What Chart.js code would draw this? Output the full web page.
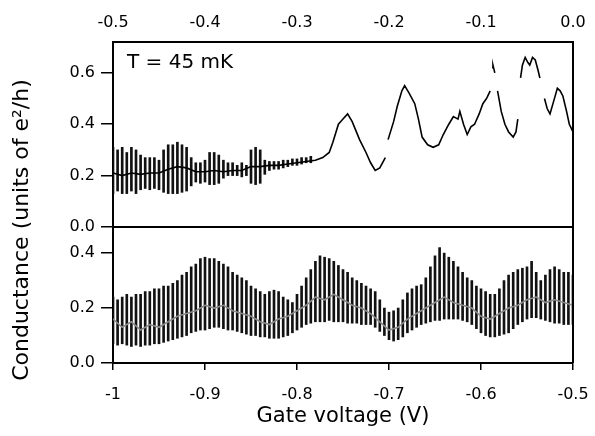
<!DOCTYPE html>
<html>
<head>
<meta charset="utf-8">
<script src="https://cdn.jsdelivr.net/npm/chart.js@4.4.0/dist/chart.umd.min.js"></script>
<style>
  html, body { margin: 0; padding: 0; background: #fff; }
</style>
</head>
<body>
<canvas id="myChart" width="595" height="436"></canvas>
<script>
// bottom panel: gate voltage -1 .. -0.5, fast oscillation shown as vertical bars
const bottomX = [
  -1.000,-0.995,-0.990,-0.985,-0.980,-0.975,-0.970,-0.965,-0.960,-0.955,
  -0.950,-0.945,-0.940,-0.935,-0.930,-0.925,-0.920,-0.915,-0.910,-0.905,
  -0.900,-0.895,-0.890,-0.885,-0.880,-0.875,-0.870,-0.865,-0.860,-0.855,
  -0.850,-0.845,-0.840,-0.835,-0.830,-0.825,-0.820,-0.815,-0.810,-0.805,
  -0.800,-0.795,-0.790,-0.785,-0.780,-0.775,-0.770,-0.765,-0.760,-0.755,
  -0.750,-0.745,-0.740,-0.735,-0.730,-0.725,-0.720,-0.715,-0.710,-0.705,
  -0.700,-0.695,-0.690,-0.685,-0.680,-0.675,-0.670,-0.665,-0.660,-0.655,
  -0.650,-0.645,-0.640,-0.635,-0.630,-0.625,-0.620,-0.615,-0.610,-0.605,
  -0.600,-0.595,-0.590,-0.585,-0.580,-0.575,-0.570,-0.565,-0.560,-0.555,
  -0.550,-0.545,-0.540,-0.535,-0.530,-0.525,-0.520,-0.515,-0.510,-0.505,
  -0.500
];
const bottomHi = [
  0.24,0.23,0.24,0.25,0.24,0.25,0.25,0.26,0.26,0.27,
  0.27,0.28,0.28,0.29,0.30,0.32,0.33,0.35,0.36,0.38,
  0.385,0.38,0.38,0.37,0.36,0.35,0.33,0.32,0.31,0.30,
  0.28,0.27,0.26,0.25,0.26,0.265,0.26,0.24,0.23,0.22,
  0.25,0.28,0.31,0.34,0.37,0.39,0.385,0.38,0.37,0.355,
  0.34,0.33,0.31,0.30,0.29,0.28,0.27,0.26,0.23,0.20,
  0.185,0.19,0.20,0.23,0.255,0.27,0.28,0.285,0.31,0.35,
  0.39,0.42,0.40,0.385,0.37,0.35,0.33,0.31,0.30,0.28,
  0.27,0.26,0.25,0.25,0.27,0.30,0.32,0.33,0.34,0.345,
  0.35,0.37,0.33,0.30,0.32,0.34,0.35,0.34,0.33,0.33,
  0.32
];
const bottomLo = [
  0.07,0.065,0.07,0.065,0.06,0.065,0.06,0.065,0.065,0.07,
  0.07,0.075,0.08,0.085,0.09,0.095,0.10,0.11,0.115,0.12,
  0.12,0.125,0.13,0.13,0.125,0.12,0.12,0.115,0.11,0.105,
  0.10,0.10,0.095,0.095,0.09,0.09,0.09,0.095,0.10,0.11,
  0.12,0.13,0.14,0.145,0.15,0.15,0.15,0.155,0.15,0.15,
  0.15,0.145,0.145,0.145,0.14,0.14,0.14,0.13,0.115,0.10,
  0.085,0.08,0.085,0.095,0.11,0.12,0.13,0.14,0.145,0.15,
  0.155,0.155,0.16,0.16,0.16,0.16,0.155,0.15,0.14,0.125,
  0.11,0.10,0.095,0.095,0.10,0.105,0.11,0.125,0.14,0.15,
  0.16,0.165,0.165,0.16,0.155,0.15,0.145,0.145,0.14,0.14,
  0.14
];
// grey averaged trace through the bottom panel
const bottomMidX = [
  -1.00,-0.99,-0.98,-0.97,-0.96,-0.95,-0.94,-0.93,-0.92,-0.91,
  -0.90,-0.89,-0.88,-0.87,-0.86,-0.85,-0.84,-0.83,-0.82,-0.81,
  -0.80,-0.79,-0.78,-0.77,-0.76,-0.75,-0.74,-0.73,-0.72,-0.71,
  -0.70,-0.69,-0.68,-0.67,-0.66,-0.65,-0.64,-0.63,-0.62,-0.61,
  -0.60,-0.59,-0.58,-0.57,-0.56,-0.55,-0.54,-0.53,-0.52,-0.51,
  -0.50
];
const bottomMid = [
  0.16,0.13,0.15,0.12,0.14,0.13,0.15,0.17,0.18,0.19,
  0.21,0.20,0.21,0.19,0.18,0.17,0.15,0.14,0.16,0.17,
  0.19,0.21,0.24,0.23,0.25,0.23,0.21,0.20,0.18,0.15,
  0.12,0.13,0.16,0.18,0.20,0.22,0.24,0.22,0.21,0.20,
  0.17,0.16,0.18,0.20,0.21,0.23,0.24,0.22,0.23,0.22,
  0.21
];

// top panel: gate voltage -0.5 .. 0, noisy part at the left
const topNoiseX = [
  -0.500,-0.495,-0.490,-0.485,-0.480,-0.475,-0.470,-0.465,-0.460,-0.455,
  -0.450,-0.445,-0.440,-0.435,-0.430,-0.425,-0.420,-0.415,-0.410,-0.405,
  -0.400,-0.395,-0.390,-0.385,-0.380,-0.375,-0.370,-0.365,-0.360,-0.355,
  -0.350,-0.345,-0.340,-0.335,-0.330,-0.325,-0.320,-0.315,-0.310,-0.305,
  -0.300,-0.295,-0.290,-0.285
];
const topNoiseHi = [
  0.31,0.30,0.31,0.29,0.31,0.30,0.28,0.27,0.27,0.27,
  0.26,0.30,0.32,0.32,0.33,0.32,0.31,0.27,0.25,0.25,
  0.26,0.29,0.29,0.28,0.26,0.25,0.25,0.24,0.25,0.24,
  0.30,0.31,0.30,0.26,0.255,0.255,0.255,0.26,0.26,0.265,
  0.265,0.27,0.27,0.275
];
const topNoiseLo = [
  0.13,0.14,0.13,0.13,0.14,0.13,0.145,0.15,0.145,0.15,
  0.145,0.135,0.13,0.13,0.13,0.135,0.14,0.16,0.175,0.17,
  0.175,0.165,0.165,0.17,0.19,0.20,0.20,0.20,0.195,0.20,
  0.17,0.165,0.17,0.205,0.22,0.225,0.225,0.23,0.235,0.24,
  0.24,0.245,0.25,0.25
];
// main top trace (null = gap in the printed line)
const topX = [
  -0.500,-0.490,-0.480,-0.470,-0.460,-0.450,-0.440,-0.430,-0.420,-0.410,
  -0.400,-0.390,-0.380,-0.370,-0.360,-0.350,-0.340,-0.330,-0.320,-0.310,
  -0.300,-0.290,-0.280,-0.272,-0.265,-0.261,-0.255,-0.250,-0.245,-0.240,
  -0.232,-0.225,-0.220,-0.215,-0.210,-0.204,-0.202,-0.201,-0.195,-0.191,
  -0.186,-0.183,-0.178,-0.172,-0.168,-0.164,-0.158,-0.152,-0.146,-0.141,
  -0.135,-0.130,-0.125,-0.123,-0.119,-0.115,-0.111,-0.107,-0.102,-0.098,
  -0.094,-0.090,-0.089,-0.088,-0.087,-0.085,-0.084,-0.082,-0.078,-0.074,
  -0.070,-0.065,-0.062,-0.060,-0.058,-0.057,-0.055,-0.052,-0.049,-0.047,
  -0.044,-0.041,-0.038,-0.036,-0.033,-0.031,-0.028,-0.025,-0.021,-0.017,
  -0.014,-0.011,-0.007,-0.004,0.000
];
const topY = [
  0.21,0.20,0.21,0.205,0.21,0.21,0.225,0.235,0.23,0.215,
  0.215,0.22,0.215,0.22,0.22,0.235,0.235,0.24,0.24,0.245,
  0.25,0.255,0.26,0.27,0.29,0.33,0.40,0.42,0.44,0.41,
  0.34,0.29,0.25,0.22,0.23,0.27,null,0.34,0.41,0.47,
  0.53,0.55,0.52,0.48,0.42,0.35,0.32,0.31,0.32,0.36,
  0.40,0.43,0.42,0.45,0.40,0.36,0.39,0.40,0.44,0.48,
  0.50,0.53,null,0.62,0.63,0.60,null,0.53,0.45,0.40,
  0.37,0.35,0.37,0.42,null,0.58,0.63,0.66,0.64,0.63,
  0.66,0.65,0.61,0.58,null,0.50,0.46,0.44,0.49,0.54,
  0.53,0.51,0.45,0.40,0.37
];

const xBottomTicks = [-1, -0.9, -0.8, -0.7, -0.6, -0.5];
const xBottomLabels = ["-1", "-0.9", "-0.8", "-0.7", "-0.6", "-0.5"];
const xTopTicks = [-0.5, -0.4, -0.3, -0.2, -0.1, 0];
const xTopLabels = ["-0.5", "-0.4", "-0.3", "-0.2", "-0.1", "0.0"];
const yTopTicks = [0, 0.2, 0.4, 0.6];
const yTopLabels = ["0.0", "0.2", "0.4", "0.6"];
const yBotTicks = [0, 0.2, 0.4];
const yBotLabels = ["0.0", "0.2", "0.4"];

const FONT = "'DejaVu Sans', sans-serif";

const pairs = (xs, ys) => xs.map((x, i) => ({x: x, y: ys[i]}));
const ranges = (xs, lo, hi) => xs.map((x, i) => ({x: x, y: [lo[i], hi[i]]}));
const setTicks = (values) => (scale) => { scale.ticks = values.map(v => ({value: v})); };
const labelFrom = (values, labels) => (v) => {
    const i = values.findIndex(t => Math.abs(t - v) < 1e-9);
    return i >= 0 ? labels[i] : "";
};
// fixed box size, no extra room for overhanging tick labels
const fixHeight = (h) => (scale) => {
    scale.height = h;
    scale.paddingLeft = 0;
    scale.paddingRight = 0;
};

const framePlugin = {
    id: 'frame',
    afterDraw(chart) {
        const ctx = chart.ctx;
        const area = chart.chartArea;
        const ySplit = chart.scales.yTop.getPixelForValue(0);
        ctx.save();
        ctx.strokeStyle = '#000';
        ctx.lineWidth = 2;
        ctx.beginPath();
        ctx.moveTo(area.left, ySplit);
        ctx.lineTo(area.right, ySplit);
        ctx.moveTo(area.right, area.top);
        ctx.lineTo(area.right, area.bottom);
        ctx.stroke();

        ctx.fillStyle = '#000';
        ctx.font = "20px " + FONT;
        ctx.textAlign = 'left';
        ctx.textBaseline = 'middle';
        ctx.fillText("T = 45 mK", 127, 63);

        ctx.translate(22, 230);
        ctx.rotate(-Math.PI / 2);
        ctx.font = "22px " + FONT;
        ctx.textAlign = 'center';
        ctx.fillText("Conductance (units of e²/h)", 0, 0);
        ctx.restore();
    }
};

const yAxis = (ticks, labels, max, weight) => ({
    type: 'linear',
    position: 'left',
    stack: 'panels',
    stackWeight: weight,
    min: 0,
    max: max,
    afterBuildTicks: setTicks(ticks),
    afterFit: (scale) => { scale.width = 113; },
    grid: {drawOnChartArea: false, color: '#000', tickLength: 12, lineWidth: 1.5},
    border: {color: '#000', width: 2},
    ticks: {color: '#000', font: {family: FONT, size: 16}, padding: 6,
            callback: labelFrom(ticks, labels)}
});

new Chart(document.getElementById('myChart'), {
    type: 'bar',
    data: {
        datasets: [
            {type: 'line', data: pairs(topX, topY), xAxisID: 'xTop', yAxisID: 'yTop',
             borderColor: '#000', borderWidth: 1.6, pointRadius: 0, spanGaps: false, tension: 0},
            {type: 'line', data: pairs(bottomMidX, bottomMid), xAxisID: 'x', yAxisID: 'yBot',
             borderColor: '#8a8a8a', borderWidth: 1.6, pointRadius: 0, tension: 0},
            {type: 'bar', data: ranges(topNoiseX, topNoiseLo, topNoiseHi), xAxisID: 'xTop', yAxisID: 'yTop',
             backgroundColor: '#111', barThickness: 2, grouped: false},
            {type: 'bar', data: ranges(bottomX, bottomLo, bottomHi), xAxisID: 'x', yAxisID: 'yBot',
             backgroundColor: '#111', barThickness: 2, grouped: false}
        ]
    },
    options: {
        responsive: false,
        animation: false,
        layout: {padding: {left: 0, right: 22, top: 0, bottom: 0}},
        plugins: {legend: {display: false}, tooltip: {enabled: false}},
        scales: {
            yBot: yAxis(yBotTicks, yBotLabels, 0.495, 136),
            yTop: yAxis(yTopTicks, yTopLabels, 0.72, 185),
            x: {
                type: 'linear', position: 'bottom', min: -1, max: -0.5, offset: false,
                afterBuildTicks: setTicks(xBottomTicks),
                afterFit: fixHeight(73),
                grid: {drawOnChartArea: false, offset: false, color: '#000', tickLength: 7, lineWidth: 1.5},
                border: {color: '#000', width: 2},
                ticks: {color: '#000', font: {family: FONT, size: 16}, padding: 15, maxRotation: 0,
                        callback: labelFrom(xBottomTicks, xBottomLabels)},
                title: {display: true, text: 'Gate voltage (V)', color: '#000',
                        font: {family: FONT, size: 21}, padding: {top: 0, bottom: 7}}
            },
            xTop: {
                type: 'linear', position: 'top', min: -0.5, max: 0, offset: false,
                afterBuildTicks: setTicks(xTopTicks),
                afterFit: fixHeight(42),
                grid: {drawOnChartArea: false, drawTicks: false, offset: false, color: '#000'},
                border: {color: '#000', width: 2},
                ticks: {color: '#000', font: {family: FONT, size: 16}, padding: 10, maxRotation: 0,
                        callback: labelFrom(xTopTicks, xTopLabels)}
            }
        }
    },
    plugins: [framePlugin]
});
</script>
</body>
</html>
